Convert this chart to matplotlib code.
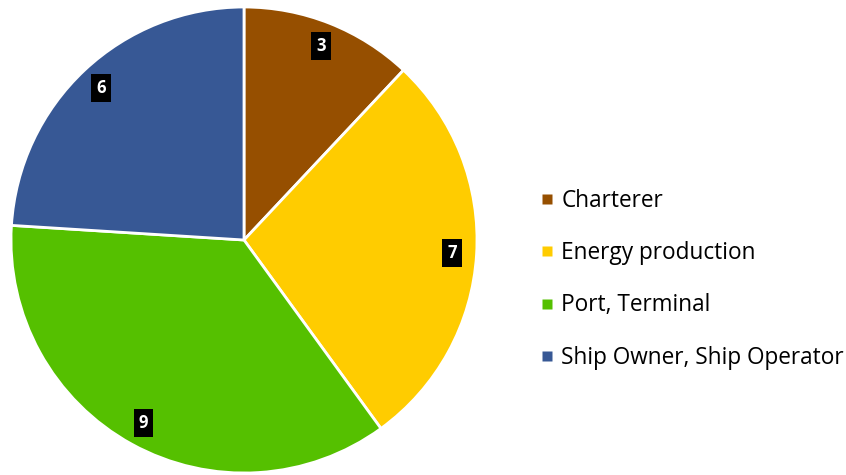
import matplotlib.pyplot as plt
from matplotlib.lines import Line2D

categories = ['Charterer', 'Energy production', 'Port, Terminal', 'Ship Owner, Ship Operator']
values = [3, 7, 9, 6]
colors = ['#964F00', '#FFCC00', '#55C000', '#375895']

plt.rcParams['font.family'] = ['Open Sans', 'DejaVu Sans']

fig = plt.figure(figsize=(8.46, 4.75), dpi=100)
cx, cy = 244 / 846, (475 - 240) / 475
rw, rh = 233 / 846, 233 / 475
ax = fig.add_axes([cx - rw, cy - rh, 2 * rw, 2 * rh])

wedges, texts = ax.pie(values, colors=colors, startangle=90, counterclock=False,
                       radius=1, labels=[str(v) for v in values], labeldistance=0.895,
                       wedgeprops=dict(edgecolor='white', linewidth=2))
for t in texts:
    t.set_ha('center')
    t.set_va('center')
    t.set_color('white')
    t.set_fontweight('bold')
    t.set_fontsize(12)
    t.set_bbox(dict(facecolor='black', edgecolor='none', boxstyle='square,pad=0.3'))
ax.set_xlim(-1, 1)
ax.set_ylim(-1, 1)
ax.set_aspect('equal')

handles = [Line2D([], [], marker='s', linestyle='none', markersize=7,
                  markerfacecolor=c, markeredgecolor='none') for c in colors]
fig.legend(handles, categories, loc='center left', bbox_to_anchor=(0.638, 0.412),
           frameon=False, fontsize=16.3, labelspacing=1.25, handletextpad=0.35,
           handlelength=0.6, borderpad=0, borderaxespad=0)

fig.savefig('out.png', dpi=100)
